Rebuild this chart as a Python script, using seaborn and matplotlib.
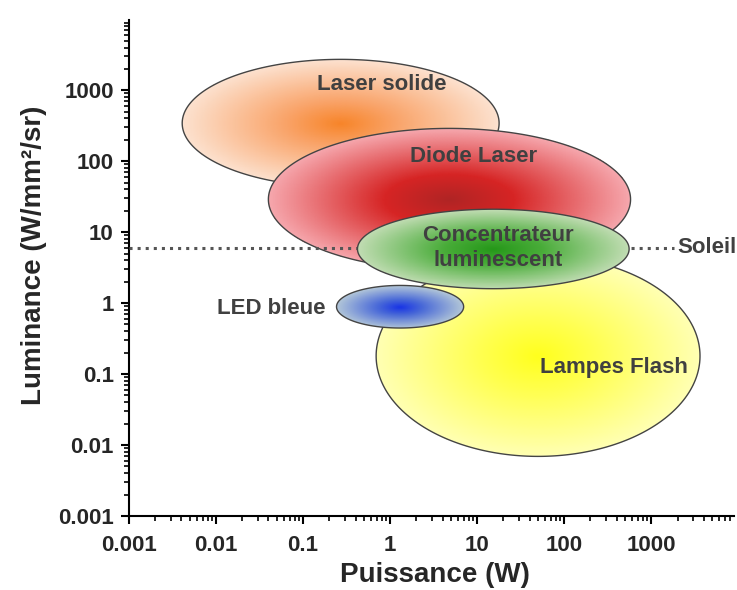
import numpy as np
import seaborn as sns
import matplotlib.pyplot as plt
from matplotlib.patches import Polygon
from matplotlib.colors import LinearSegmentedColormap
from matplotlib.ticker import FixedLocator, FixedFormatter, LogLocator, NullFormatter

# sources drawn from bottom to top
sources = ["Laser solide", "Diode Laser", "Lampes Flash", "LED bleue",
           "Concentrateur\nluminescent"]
power_center = [0.27, 4.8, 50.0, 1.3, 15.3]      # W
power_halfspan = [1.82, 2.08, 1.86, 0.73, 1.56]  # decades
lum_center = [343.0, 29.0, 0.18, 0.89, 5.8]      # W/mm2/sr
lum_halfspan = [0.90, 1.0, 1.415, 0.30, 0.56]    # decades
center_colors = ["#F7852A", "#B02424", "#FFFF1E", "#1A36E6", "#26981A"]
mid_colors = ["#F9A46A", "#D62424", "#FFFF50", "#4A6AD8", "#48AC38"]
edge_colors = ["#FCE2D0", "#F6A8AE", "#FFFFB4", "#B4C8D8", "#C2DDB4"]
alphas = [1.0, 0.85, 1.0, 0.95, 0.75]

label_x = [0.8, 9.0, 370.0, 0.043, 17.5]
label_y = [1210.0, 118.0, 0.125, 0.85, 6.0]

soleil_x = [0.001, 1800.0]
soleil_y = [6.0, 6.0]

tick_vals = [0.001, 0.01, 0.1, 1, 10, 100, 1000]
tick_labels = ["0.001", "0.01", "0.1", "1", "10", "100", "1000"]

sns.set_theme(style="ticks")
plt.rcParams['font.family'] = ['Liberation Sans', 'DejaVu Sans']

fig = plt.figure(figsize=(7.37, 5.9), dpi=100)
ax = fig.add_axes([0.175, 0.1254, 0.821, 0.8407])
ax.set_xscale('log')
ax.set_yscale('log')
ax.set_xlim(1e-3, 10**3.95)
ax.set_ylim(1e-3, 10**3.99)

t = np.linspace(0, 2 * np.pi, 400)
for i, name in enumerate(sources):
  cx = np.log10(power_center[i])
  cy = np.log10(lum_center[i])
  a = power_halfspan[i]
  b = lum_halfspan[i]
  lx = np.linspace(cx - a, cx + a, 260)
  ly = np.linspace(cy - b, cy + b, 180)
  LX, LY = np.meshgrid(lx, ly)
  r = np.sqrt(((LX - cx) / a) ** 2 + ((LY - cy) / b) ** 2)
  cmap = LinearSegmentedColormap.from_list(
    name, [(0, center_colors[i]), (0.35, mid_colors[i]), (1, edge_colors[i])])
  z = 2 * i + 1
  mesh = ax.pcolormesh(10 ** LX, 10 ** LY, np.clip(r, 0, 1), cmap=cmap,
                       vmin=0, vmax=1, shading='gouraud', alpha=alphas[i],
                       zorder=z, rasterized=True)
  pts = np.column_stack([10 ** (cx + a * np.cos(t)), 10 ** (cy + b * np.sin(t))])
  poly = Polygon(pts, closed=True, facecolor='none', edgecolor='#444444',
                 linewidth=1.0, zorder=z + 0.5)
  ax.add_patch(poly)
  mesh.set_clip_path(poly)
  if i == 3:
    # sun line sits under the concentrator
    sns.lineplot(x=soleil_x, y=soleil_y, ax=ax, color='#555555', linestyle=':',
                 linewidth=2.2, zorder=z + 0.8)

for i, name in enumerate(sources):
  ax.text(label_x[i], label_y[i], name, ha='center', va='center',
          fontsize=16, fontweight='bold', color='#404040', zorder=20,
          linespacing=1.25)

ax.text(2000, 6.0, "Soleil", ha='left', va='center', fontsize=16,
        fontweight='bold', color='#404040', zorder=20)

for axis in (ax.xaxis, ax.yaxis):
  axis.set_major_locator(FixedLocator(tick_vals))
  axis.set_major_formatter(FixedFormatter(tick_labels))
  axis.set_minor_locator(LogLocator(base=10, subs=np.arange(2, 10), numticks=20))
  axis.set_minor_formatter(NullFormatter())

ax.tick_params(which='major', direction='out', length=6, width=1.5,
               labelsize=16, color='black')
ax.tick_params(which='minor', direction='out', length=3.5, width=1.2,
               color='black')
ax.tick_params(axis='x', which='major', pad=8)
ax.tick_params(axis='y', which='major', pad=5)
for lab in ax.get_xticklabels() + ax.get_yticklabels():
  lab.set_fontweight('bold')

for side in ('left', 'bottom'):
  ax.spines[side].set_linewidth(1.5)
  ax.spines[side].set_color('black')
sns.despine(ax=ax)

ax.set_xlabel("Puissance (W)", fontsize=20, fontweight='bold')
ax.set_ylabel("Luminance (W/mm²/sr)", fontsize=20, fontweight='bold')
ax.xaxis.set_label_coords(0.505, -0.093)
ax.yaxis.set_label_coords(-0.135, 0.526)

fig.savefig("out.png", dpi=100)
